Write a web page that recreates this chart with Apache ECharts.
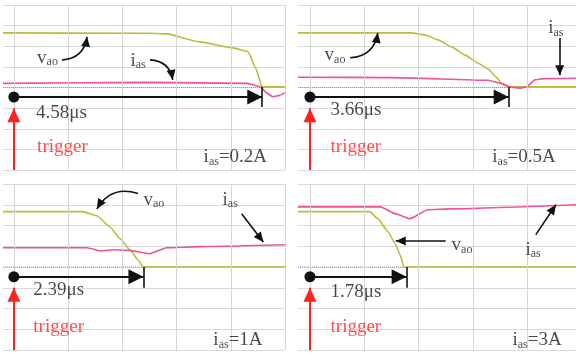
<!DOCTYPE html>
<html>
<head>
<meta charset="utf-8">
<script src="https://cdn.jsdelivr.net/npm/echarts@6/dist/echarts.min.js"></script>
<style>
html, body { margin: 0; padding: 0; background: #fff; }
#main { width: 576px; height: 354px; }
</style>
</head>
<body>
<div id="main"></div>
<script>
// scope traces: x in us from the trigger, y in screen divisions (0..8)
const vao1 = [[-0.2, 6.65], [2.5, 6.63], [2.82, 6.6], [3.43, 6.21], [4.04, 5.92], [4.32, 5.73], [4.45, 5.0], [4.58, 4.03], [5.0, 4.03]];
const ias1 = [[-0.2, 4.2], [2.5, 4.25], [4.3, 4.2], [4.55, 4.05], [4.65, 3.75], [4.78, 3.55], [4.9, 3.62], [5.0, 3.75]];
const vao2 = [[-0.22, 6.65], [1.86, 6.65], [2.12, 6.55], [2.36, 6.31], [2.61, 5.97], [2.85, 5.58], [3.09, 5.19], [3.28, 4.9], [3.43, 4.51], [3.52, 4.22], [3.63, 4.03], [4.9, 4.03]];
const ias2 = [[-0.22, 4.5], [1.5, 4.48], [3.28, 4.35], [3.52, 4.2], [3.7, 4.02], [3.89, 3.97], [4.0, 4.05], [4.14, 4.37], [4.3, 4.43], [4.9, 4.45]];
const vao3 = [[-0.2, 6.67], [1.27, 6.67], [1.53, 6.47], [1.77, 5.94], [1.96, 5.36], [2.14, 4.83], [2.29, 4.35], [2.38, 4.0], [5.0, 4.0]];
const ias3 = [[-0.2, 4.93], [1.35, 4.93], [1.6, 4.78], [1.83, 4.83], [2.14, 4.8], [2.5, 4.64], [2.82, 4.93], [3.43, 4.98], [5.0, 5.07]];
const vao4 = [[-0.22, 6.67], [1.1, 6.67], [1.25, 6.33], [1.44, 5.7], [1.57, 5.12], [1.66, 4.59], [1.73, 4.0], [4.9, 4.0]];
const ias4 = [[-0.22, 6.9], [1.3, 6.9], [1.57, 6.57], [1.84, 6.33], [2.17, 6.76], [2.6, 6.8], [4.9, 7.0]];

const delays = [4.58, 3.66, 2.39, 1.78];   // us, trigger -> vao falls
const currents = ['0.2', '0.5', '1', '3']; // ias, A
const divisions = [0, 1, 2, 3, 4, 5];

const serif = 'Liberation Serif';
const VAO_COLOR = '#bcbc3c';
const IAS_COLOR = '#f0529c';
// arrow head whose tip sits in the middle of its box, so it stops on the end point
const HEAD = 'path://M0,0L7,14L-7,14ZM0,-14';

// layout of each panel and where its annotations sit
const panels = [
  { grid: { left: 3, top: 5, width: 282, height: 165 }, xMin: -0.2, xMax: 5.0, vao: vao1, ias: ias1,
    dotY: 3.54, bar: [3.06, 4.03], trigTip: 3.0,
    delayAt: [0.4, 2.77], trigAt: [0.42, 1.12], curAt: [3.49, 0.63],
    vaoLbl: [0.42, 5.44], iasLbl: [2.14, 5.3],
    vaoArrow: [[0.89, 5.34], [1.35, 6.46]], vaoCurve: -0.4,
    iasArrow: [[2.51, 5.34], [2.93, 4.37]], iasCurve: 0.4 },
  { grid: { left: 298, top: 5, width: 278, height: 165 }, xMin: -0.22, xMax: 4.9, vao: vao2, ias: ias2,
    dotY: 3.54, bar: [3.06, 4.03], trigTip: 3.0,
    delayAt: [0.37, 2.91], trigAt: [0.37, 1.12], curAt: [3.35, 0.63],
    vaoLbl: [0.26, 5.58], iasLbl: [4.38, 6.89],
    vaoArrow: [[0.74, 5.44], [1.25, 6.65]], vaoCurve: -0.4,
    iasArrow: [[4.6, 6.4], [4.6, 4.6]], iasCurve: 0 },
  { grid: { left: 3, top: 184, width: 282, height: 166 }, xMin: -0.2, xMax: 5.0, vao: vao3, ias: ias3,
    dotY: 3.53, bar: [3.0, 4.0], trigTip: 3.0,
    delayAt: [0.35, 2.9], trigAt: [0.35, 1.11], curAt: [3.67, 0.48],
    vaoLbl: [2.38, 7.25], iasLbl: [3.84, 7.25],
    vaoArrow: [[2.29, 7.54], [1.53, 6.8]], vaoCurve: -0.4,
    iasArrow: [[4.2, 6.57], [4.6, 5.2]], iasCurve: 0 },
  { grid: { left: 298, top: 184, width: 278, height: 166 }, xMin: -0.22, xMax: 4.9, vao: vao4, ias: ias4,
    dotY: 3.53, bar: [3.0, 4.0], trigTip: 3.0,
    delayAt: [0.37, 2.8], trigAt: [0.37, 1.11], curAt: [3.72, 0.48],
    vaoLbl: [2.6, 5.05], iasLbl: [3.96, 4.83],
    vaoArrow: [[2.5, 5.25], [1.58, 5.25]], vaoCurve: 0,
    iasArrow: [[4.16, 5.56], [4.53, 7.0]], iasCurve: 0 }
];

const rich = {
  n: { fontFamily: serif, fontSize: 19, color: '#1a1a1a' },
  s: { fontFamily: serif, fontSize: 12, color: '#1a1a1a', padding: [9, 0, 0, 0] },
  r: { fontFamily: serif, fontSize: 19, color: '#ff2222' }
};

const option = { animation: false, backgroundColor: '#fff', grid: [], xAxis: [], yAxis: [], series: [] };

panels.forEach((p, i) => {
  const ax = { xAxisIndex: i, yAxisIndex: i };
  option.grid.push(p.grid);
  option.xAxis.push({ type: 'value', gridIndex: i, min: p.xMin, max: p.xMax, show: false });
  option.yAxis.push({
    type: 'value', gridIndex: i, min: 0, max: 8, interval: 1,
    axisLine: { show: false }, axisTick: { show: false }, axisLabel: { show: false },
    splitLine: { lineStyle: { color: '#dadada', width: 1 } }
  });

  // centre graticule line (dotted) + vertical divisions
  option.series.push({
    type: 'line', ...ax, silent: true, showSymbol: false,
    data: [[p.xMin, 4], [p.xMax, 4]],
    lineStyle: { color: '#9a9a9a', width: 1, type: 'dotted' },
    markLine: {
      silent: true, symbol: 'none', label: { show: false },
      lineStyle: { color: '#d6d6d6', width: 1, type: 'solid' },
      data: divisions.filter(d => d <= p.xMax).map(d => ({ xAxis: d }))
    }
  });

  option.series.push({
    name: 'vao', type: 'line', ...ax, data: p.vao, showSymbol: false,
    smooth: 0.15, smoothMonotone: 'x',
    lineStyle: { color: VAO_COLOR, width: 1.6 }
  });
  option.series.push({
    name: 'ias', type: 'line', ...ax, data: p.ias, showSymbol: false,
    smooth: 0.15, smoothMonotone: 'x',
    lineStyle: { color: IAS_COLOR, width: 1.6 }
  });

  // delay arrow: dot at trigger -> filled head at the vao edge
  option.series.push({
    type: 'lines', coordinateSystem: 'cartesian2d', ...ax, silent: true, z: 5,
    symbol: ['circle', HEAD], symbolSize: [11, [15, 30]],
    lineStyle: { color: '#111', width: 2, opacity: 1 },
    data: [{ coords: [[0, p.dotY], [delays[i], p.dotY]] }]
  });
  option.series.push({
    type: 'lines', coordinateSystem: 'cartesian2d', ...ax, silent: true, z: 5,
    symbol: 'none',
    lineStyle: { color: '#111', width: 1.6, opacity: 1 },
    data: [{ coords: [[delays[i], p.bar[0]], [delays[i], p.bar[1]]] }]
  });
  // trigger arrow
  option.series.push({
    type: 'lines', coordinateSystem: 'cartesian2d', ...ax, silent: true, z: 5,
    symbol: ['none', HEAD], symbolSize: [1, [13, 28]],
    lineStyle: { color: '#ff2222', width: 2, opacity: 1 },
    data: [{ coords: [[0, 0], [0, p.trigTip]] }]
  });
  // pointer arrows for the trace labels
  option.series.push({
    type: 'lines', coordinateSystem: 'cartesian2d', ...ax, silent: true, z: 5,
    symbol: ['none', HEAD], symbolSize: [1, [9, 20]],
    lineStyle: { color: '#111', width: 1.6, opacity: 1 },
    data: [
      { coords: p.vaoArrow, lineStyle: { curveness: p.vaoCurve } },
      { coords: p.iasArrow, lineStyle: { curveness: p.iasCurve } }
    ]
  });
  // text
  option.series.push({
    type: 'scatter', ...ax, silent: true, z: 6, symbolSize: 1,
    itemStyle: { color: 'rgba(0,0,0,0)' },
    label: {
      show: true, position: 'right', distance: 0, formatter: '{b}',
      fontFamily: serif, fontSize: 19, color: '#1a1a1a', rich: rich
    },
    data: [
      { name: delays[i].toFixed(2) + 'μs', value: p.delayAt },
      { name: '{r|trigger}', value: p.trigAt },
      { name: '{n|i}{s|as}{n|=' + currents[i] + 'A}', value: p.curAt },
      { name: '{n|v}{s|ao}', value: p.vaoLbl },
      { name: '{n|i}{s|as}', value: p.iasLbl }
    ]
  });
});

const chart = echarts.init(document.getElementById('main'), null, { renderer: 'canvas' });
chart.setOption(option);
</script>
</body>
</html>
